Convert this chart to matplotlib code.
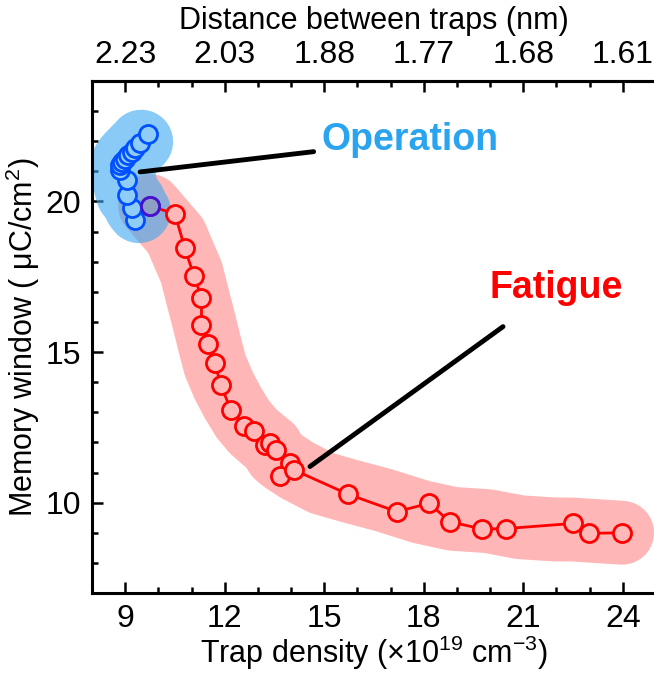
import matplotlib
matplotlib.use("Agg")
import matplotlib.pyplot as plt
import numpy as np
import pandas as pd
from matplotlib.ticker import MultipleLocator

plt.rcParams['font.family'] = ['Liberation Sans', 'DejaVu Sans']
plt.rcParams['mathtext.fontset'] = 'custom'
plt.rcParams['mathtext.rm'] = 'Liberation Sans'
plt.rcParams['mathtext.it'] = 'Liberation Sans:italic'

# operation points (trap density, memory window)
op_x = [9.75, 9.30, 9.20, 9.05, 9.05, 8.84, 8.84, 8.89, 8.99, 9.09, 9.20, 9.30, 9.45, 9.70]
op_y = [19.85, 19.39, 19.79, 20.20, 20.70, 21.03, 21.20, 21.31, 21.42, 21.53, 21.64, 21.79, 21.94, 22.23]

# fatigue points
fat_x = [9.75, 10.50, 10.80, 11.08, 11.30, 11.30, 11.50, 11.70, 11.88, 12.18, 12.59, 12.88,
         13.21, 13.36, 13.56, 13.96, 13.68, 14.08, 15.72, 17.19, 18.16, 18.78, 19.77, 20.49,
         22.50, 22.98, 23.98]
fat_y = [19.85, 19.59, 18.44, 17.51, 16.81, 15.89, 15.26, 14.64, 13.92, 13.09, 12.53, 12.39,
         11.92, 11.98, 11.76, 11.31, 10.87, 11.09, 10.28, 9.70, 9.98, 9.37, 9.12, 9.14,
         9.31, 8.98, 9.00]

bottom_ticks = [9, 12, 15, 18, 21, 24]
# distance between traps = n^(-1/3), n in 1e19 cm^-3 -> nm
top_labels = ["%.2f" % ((t * 1e19) ** (-1 / 3) * 1e7) for t in bottom_ticks]

red = '#ff0000'
blue = '#0050ff'
purple = '#4a10d0'
red_band = '#ff6e6e'
blue_band = '#3aa8f2'

fig = plt.figure(figsize=(6.54, 6.73), dpi=100)
ax = fig.add_axes([92 / 654, 80 / 673, 564 / 654, 512 / 673])

# smooth bands behind the points (ends pinned to the first/last point)
fb = pd.DataFrame({'x': fat_x, 'y': fat_y})
fbs = fb.rolling(5, center=True, min_periods=1).mean()
fbs.iloc[0] = fb.iloc[0]
fbs.iloc[-1] = fb.iloc[-1]
ax.plot(fbs['x'], fbs['y'], color=red_band, alpha=0.5, lw=46, solid_capstyle='round',
        solid_joinstyle='round', zorder=1)
ob = pd.DataFrame({'x': op_x, 'y': op_y}).rolling(5, center=True, min_periods=1).mean()
ax.plot(ob['x'], ob['y'], color=blue_band, alpha=0.6, lw=46, solid_capstyle='round',
        solid_joinstyle='round', zorder=2)

ax.plot(fat_x, fat_y, '-o', color=red, lw=2, ms=13, mew=2, mfc='#ffb7b7', zorder=3)
ax.plot(op_x, op_y, '-o', color=blue, lw=2, ms=13, mew=2, mfc='#8fcdf7', zorder=4)
ax.plot(fat_x[0], fat_y[0], 'o', ms=13, mew=2, mec=purple, mfc='#8e9fc4', zorder=5)

ax.annotate('Operation', xy=(9.45, 20.98), xytext=(14.93, 22.03),
            fontsize=27, fontweight='bold', color='#2aa4ee', va='center', ha='left',
            arrowprops=dict(arrowstyle='-', color='black', lw=3.5, shrinkA=4, shrinkB=0))
ax.annotate('Fatigue', xy=(14.57, 11.2), xytext=(22.0, 17.13),
            fontsize=27, fontweight='bold', color=red, va='center', ha='center',
            arrowprops=dict(arrowstyle='-', color='black', lw=3.5, shrinkA=22, shrinkB=0))

ax.set_xlim(8, 25)
ax.set_ylim(7, 24)
ax.set_xticks(bottom_ticks)
ax.xaxis.set_minor_locator(MultipleLocator(1))
ax.set_yticks([10, 15, 20])
ax.yaxis.set_minor_locator(MultipleLocator(1))

ax.set_xlabel('Trap density ($\\times$10$^{19}$ cm$^{-3}$)', fontsize=22, labelpad=0)
ax.set_ylabel('Memory window ( \u03bcC/cm$^2$)', fontsize=22, labelpad=2)

ax2 = ax.secondary_xaxis('top')
ax2.set_xticks(bottom_ticks)
ax2.set_xticklabels(top_labels)
ax2.xaxis.set_minor_locator(MultipleLocator(1))
ax2.set_xlabel('Distance between traps (nm)', fontsize=22, labelpad=8)

for a in (ax, ax2):
    a.tick_params(which='major', direction='in', length=8, width=1.8, labelsize=23, pad=8)
    a.tick_params(which='minor', direction='in', length=4, width=1.8)
for s in ax.spines.values():
    s.set_linewidth(2.2)
ax2.spines['top'].set_linewidth(2.2)

fig.savefig('out.png', dpi=100)
